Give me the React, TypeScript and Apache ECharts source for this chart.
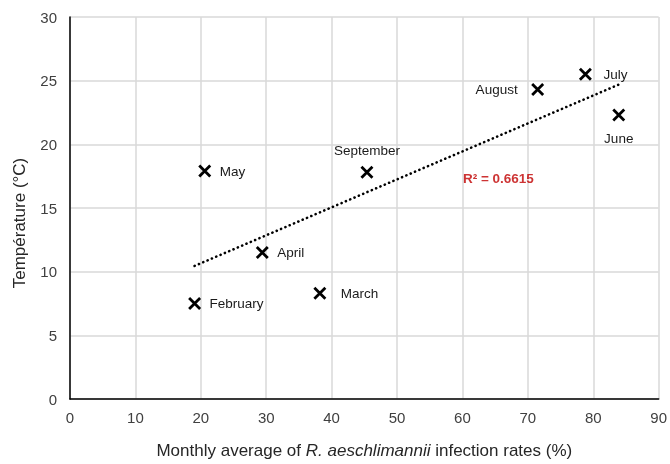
import React, { useEffect, useRef } from "react";
import * as echarts from "echarts";

const months = ["February", "March", "April", "May", "June", "July", "August", "September"];
const infectionRates = [19.05, 38.2, 29.4, 20.6, 83.9, 78.8, 71.5, 45.4];
const temperatures = [7.5, 8.3, 11.5, 17.9, 22.3, 25.5, 24.3, 17.8];
const labelPositions = ["right", "right", "right", "right", "bottom", "right", "left", "top"];
const labelDistances = [7, 13, 7, 7, 8, 10, 12, 7];
const xTicks = [0, 10, 20, 30, 40, 50, 60, 70, 80, 90];
const yTicks = [0, 5, 10, 15, 20, 25, 30];
const r2Text = "R² = 0.6615";
const r2Anchor = [65.5, 17.3];

function regression(xs: number[], ys: number[]) {
  const n = xs.length;
  const mx = xs.reduce((a, b) => a + b, 0) / n;
  const my = ys.reduce((a, b) => a + b, 0) / n;
  let sxy = 0, sxx = 0;
  for (let i = 0; i < n; i++) {
    sxy += (xs[i] - mx) * (ys[i] - my);
    sxx += (xs[i] - mx) ** 2;
  }
  const slope = sxy / sxx;
  return { slope, intercept: my - slope * mx };
}

export default function App() {
  const ref = useRef<HTMLDivElement>(null);
  useEffect(() => {
    if (!ref.current) return;
    const chart = echarts.init(ref.current, null, { renderer: "svg" });
    const { slope, intercept } = regression(infectionRates, temperatures);
    const xmin = Math.min(...infectionRates);
    const xmax = Math.max(...infectionRates);
    const trend = [
      [xmin, slope * xmin + intercept],
      [xmax, slope * xmax + intercept],
    ];
    const font = "Liberation Sans, Arial, sans-serif";
    chart.setOption({
      animation: false,
      textStyle: { fontFamily: font },
      grid: { left: 70, right: 9, top: 17, bottom: 59, containLabel: false },
      xAxis: {
        type: "value",
        min: xTicks[0],
        max: xTicks[xTicks.length - 1],
        interval: 10,
        name: "Monthly average of {i|R. aeschlimannii} infection rates (%)",
        nameLocation: "middle",
        nameGap: 43,
        nameTextStyle: {
          fontSize: 17,
          color: "#262626",
          fontFamily: font,
          rich: { i: { fontStyle: "italic", fontSize: 17, color: "#262626", fontFamily: font } },
        },
        axisLine: { show: true, lineStyle: { color: "#000", width: 1.5 } },
        axisTick: { show: false },
        axisLabel: { fontSize: 15, color: "#404040", margin: 11, fontFamily: font },
        splitLine: { show: true, lineStyle: { color: "#d9d9d9", width: 1.5 } },
      },
      yAxis: {
        type: "value",
        min: yTicks[0],
        max: yTicks[yTicks.length - 1],
        interval: 5,
        name: "Température (°C)",
        nameLocation: "middle",
        nameGap: 42,
        nameTextStyle: { fontSize: 17, color: "#262626", fontFamily: font, padding: [0, 30, 0, 0] },
        axisLine: { show: true, lineStyle: { color: "#000", width: 1.5 } },
        axisTick: { show: false },
        axisLabel: { fontSize: 15, color: "#404040", margin: 13, fontFamily: font },
        splitLine: { show: true, lineStyle: { color: "#d9d9d9", width: 1.5 } },
      },
      series: [
        {
          type: "line",
          data: trend,
          symbol: "none",
          lineStyle: { color: "#000", width: 2.6, type: [0.1, 4.6], cap: "round" },
          z: 2,
        },
        {
          type: "scatter",
          data: infectionRates.map((x, i) => ({
            value: [x, temperatures[i]],
            name: months[i],
            label: { position: labelPositions[i], distance: labelDistances[i] },
          })),
          symbol: "path://M0,0L10,10M10,0L0,10",
          symbolSize: 11,
          itemStyle: { color: "none", borderColor: "#000", borderWidth: 2.8, opacity: 1 },
          label: {
            show: true,
            formatter: "{b}",
            fontSize: 13.5,
            color: "#1a1a1a",
            fontFamily: font,
          },
          z: 3,
        },
        {
          type: "scatter",
          data: [{ value: r2Anchor }],
          symbolSize: 0,
          label: {
            show: true,
            position: "inside",
            formatter: r2Text,
            fontSize: 13.5,
            fontWeight: "bold",
            color: "#c00000",
            fontFamily: font,
          },
          z: 4,
        },
      ],
    });
    return () => chart.dispose();
  }, []);
  return (
    <div
      ref={ref}
      style={{ position: "fixed", left: 0, top: 0, width: 670, height: 464 }}
    />
  );
}
